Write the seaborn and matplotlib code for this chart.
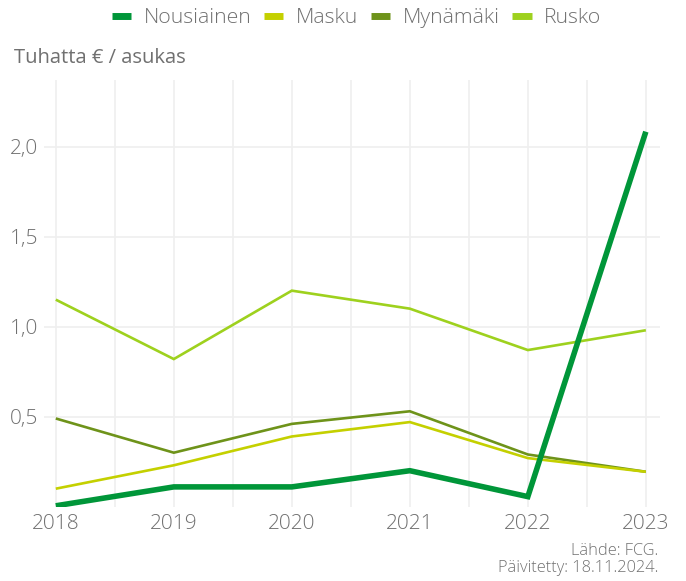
import matplotlib
matplotlib.use("Agg")
import matplotlib.pyplot as plt
from matplotlib.lines import Line2D
from matplotlib.ticker import FixedLocator, FuncFormatter, MultipleLocator
import seaborn as sns
import pandas as pd

years = [2018, 2019, 2020, 2021, 2022, 2023]
municipalities = ["Nousiainen", "Masku", "Mynämäki", "Rusko"]
nousiainen = [0.005, 0.11, 0.11, 0.20, 0.056, 2.083]
masku = [0.10, 0.23, 0.39, 0.47, 0.27, 0.194]
mynamaki = [0.49, 0.30, 0.46, 0.53, 0.29, 0.194]
rusko = [1.15, 0.82, 1.20, 1.10, 0.87, 0.98]
y_ticks = [0.5, 1.0, 1.5, 2.0]

colors = {
    "Nousiainen": "#009639",
    "Masku": "#c4d000",
    "Mynämäki": "#6e931a",
    "Rusko": "#9ed11e",
}
widths = {"Nousiainen": 4.0, "Masku": 1.9, "Mynämäki": 1.9, "Rusko": 1.9}

df = pd.DataFrame({
    "Vuosi": years * 4,
    "Arvo": nousiainen + masku + mynamaki + rusko,
    "Kunta": [m for m in municipalities for _ in years],
})

sns.set_theme(style="white")
plt.rcParams["font.family"] = ["Open Sans", "DejaVu Sans"]
plt.rcParams["font.weight"] = "light"
text_col = "#707070"

fig = plt.figure(figsize=(6.86, 5.81), dpi=100)
ax = fig.add_axes([44 / 686, 1 - 506.7 / 581, 616 / 686, (506.7 - 80) / 581])

# draw background series first so Nousiainen sits on top
order = ["Rusko", "Mynämäki", "Masku", "Nousiainen"]
for name in order:
    sub = df[df["Kunta"] == name]
    sns.lineplot(data=sub, x="Vuosi", y="Arvo", color=colors[name],
                 linewidth=widths[name], ax=ax, legend=False,
                 solid_capstyle="butt", solid_joinstyle="miter")

ax.set_xlim(2017.9, 2023.12)
ax.set_ylim(0, 2.37)
ax.xaxis.set_major_locator(FixedLocator(years))
ax.xaxis.set_minor_locator(MultipleLocator(0.5))
ax.yaxis.set_major_locator(FixedLocator(y_ticks))
ax.yaxis.set_major_formatter(FuncFormatter(lambda v, p: f"{v:.1f}".replace(".", ",")))
ax.xaxis.set_major_formatter(FuncFormatter(lambda v, p: f"{int(v)}"))

ax.grid(True, which="major", axis="both", color="#efefef", linewidth=1.2)
ax.grid(True, which="minor", axis="x", color="#efefef", linewidth=1.2)
ax.set_axisbelow(True)
for s in ax.spines.values():
    s.set_visible(False)
ax.tick_params(axis="both", which="both", length=0, labelsize=15, labelcolor=text_col)
ax.tick_params(axis="x", pad=5)
ax.tick_params(axis="y", pad=4)
ax.set_xlabel("")
ax.set_ylabel("")

fig.text(14 / 686, 1 - 58 / 581, "Tuhatta € / asukas", fontsize=14.5,
         fontweight="normal", color=text_col, ha="left", va="center")

handles = [Line2D([0], [0], color=colors[m], linewidth=5, solid_capstyle="butt")
           for m in municipalities]
fig.legend(handles, municipalities, loc="center", bbox_to_anchor=(356.5 / 686, 1 - 18 / 581),
           ncol=4, frameon=False, fontsize=15.3, handlelength=0.9, handletextpad=0.6,
           columnspacing=0.6, labelcolor=text_col)

fig.text(658 / 686, 1 - 551 / 581, "Lähde: FCG.", fontsize=11.8, color=text_col,
         ha="right", va="center")
fig.text(658 / 686, 1 - 568 / 581, "Päivitetty: 18.11.2024.", fontsize=11.8,
         color=text_col, ha="right", va="center")

fig.savefig("out.png", dpi=100)
